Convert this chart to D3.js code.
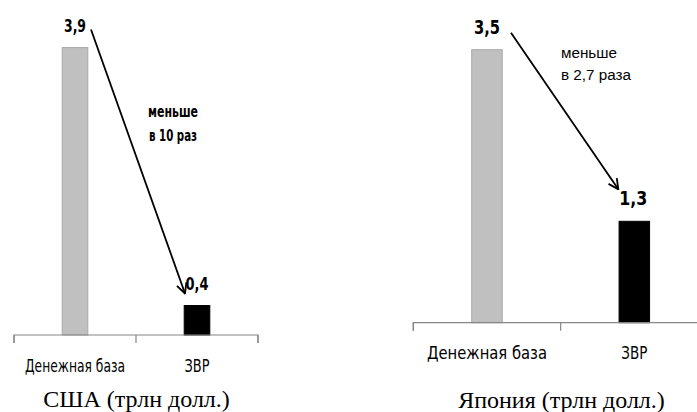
<!DOCTYPE html>
<html>
<head>
<meta charset="utf-8">
<script src="https://cdn.jsdelivr.net/npm/d3@7/dist/d3.min.js"></script>
<style>
  html, body { margin: 0; padding: 0; background: #fff; }
  svg { display: block; }
  .cond { font-family: "Liberation Sans Narrow", "DejaVu Sans Condensed", "DejaVu Sans", sans-serif; }
  .arial { font-family: "Liberation Sans", Arial, sans-serif; }
  .serif { font-family: "Liberation Serif", "Times New Roman", serif; }
</style>
</head>
<body>
<svg id="chart" width="697" height="412"></svg>
<script>
// Categories shared by both panels
const categories = ["Денежная база", "ЗВР"];

// Values, trillion dollars
const usaValues = [3.9, 0.4];
const japanValues = [3.5, 1.3];

// Panel titles
const usaTitle = "США (трлн долл.)";
const japanTitle = "Япония (трлн долл.)";

// Ratio notes beside the arrows
const usaNote = ["меньше", "в 10 раз"];
const japanNote = ["меньше", "в 2,7 раза"];

const barColors = ["#c0c0c0", "#000000"];
const barStrokes = ["#a8a8a8", "#000000"];

const fmt = v => d3.format(".1f")(v).replace(".", ",");

const svg = d3.select("#chart");

svg.append("defs").append("marker")
  .attr("id", "arrowhead")
  .attr("markerUnits", "userSpaceOnUse")
  .attr("viewBox", "0 0 12 12")
  .attr("refX", 11).attr("refY", 6)
  .attr("markerWidth", 12).attr("markerHeight", 12)
  .attr("orient", "auto")
  .append("path")
  .attr("d", "M1,1 L11,6 L1,11")
  .attr("fill", "none")
  .attr("stroke", "#000")
  .attr("stroke-width", 1.8);

// Fit a text node to a given width (keeps narrow Calibri-like proportions)
function fitWidth(sel, w) {
  if (w) sel.attr("textLength", w).attr("lengthAdjust", "spacingAndGlyphs");
}

function panel(cfg) {
  const g = svg.append("g");
  const x = d3.scaleBand().domain(categories).range(cfg.xRange).padding(0);
  const y = d3.scaleLinear().domain([0, 4]).range([cfg.base, cfg.base - 4 * cfg.unit]);

  // Bars
  g.selectAll("rect.bar").data(cfg.values).join("rect")
    .attr("class", "bar")
    .attr("x", (d, i) => x(categories[i]) + x.bandwidth() / 2 - cfg.barW / 2)
    .attr("width", cfg.barW)
    .attr("y", d => y(d))
    .attr("height", d => y(0) - y(d))
    .attr("fill", (d, i) => barColors[i])
    .attr("stroke", (d, i) => barStrokes[i])
    .attr("stroke-width", 1);

  // Category axis
  const axis = d3.axisBottom(x).tickSize(8).tickSizeOuter(8).tickFormat("").tickValues([]);
  const ax = g.append("g").attr("transform", `translate(0,${cfg.base})`).call(axis);
  ax.select(".domain").attr("stroke", "#868686").attr("stroke-width", 1.2)
    .attr("d", `M${cfg.xRange[0]},8V0H${cfg.xRange[1]}V8`);
  const bounds = [cfg.xRange[0], x(categories[1]), cfg.xRange[1]];
  ax.selectAll("line.sep").data(bounds).join("line")
    .attr("class", "sep")
    .attr("x1", d => d).attr("x2", d => d)
    .attr("y1", 0).attr("y2", 8)
    .attr("stroke", "#868686").attr("stroke-width", 1.2);

  // Category labels
  g.selectAll("text.cat").data(categories).join("text")
    .attr("class", "cat cond")
    .attr("x", d => x(d) + x.bandwidth() / 2)
    .attr("y", cfg.base + cfg.catDy)
    .attr("text-anchor", "middle")
    .attr("font-size", cfg.catSize)
    .attr("fill", "#000")
    .text(d => d)
    .each(function (d, i) { fitWidth(d3.select(this), cfg.catW[i]); });

  // Value labels
  g.selectAll("text.val").data(cfg.values).join("text")
    .attr("class", "val cond")
    .attr("x", (d, i) => x(categories[i]) + x.bandwidth() / 2 + cfg.valDx[i])
    .attr("y", d => y(d) - 16)
    .attr("text-anchor", "middle")
    .attr("font-size", cfg.valSize)
    .attr("font-weight", "bold")
    .attr("fill", "#000")
    .text(d => fmt(d))
    .each(function (d, i) { fitWidth(d3.select(this), cfg.valW[i]); });

  // Arrow from the first value label down to the second
  const cx0 = x(categories[0]) + x.bandwidth() / 2;
  const cx1 = x(categories[1]) + x.bandwidth() / 2;
  g.append("line")
    .attr("x1", cx0 + cfg.arrowStart[0]).attr("y1", y(cfg.values[0]) + cfg.arrowStart[1])
    .attr("x2", cx1 + cfg.arrowEnd[0]).attr("y2", y(cfg.values[1]) + cfg.arrowEnd[1])
    .attr("stroke", "#000")
    .attr("stroke-width", 1.8)
    .attr("marker-end", "url(#arrowhead)");

  // Ratio note
  cfg.note.forEach((line, i) => {
    const t = g.append("text")
      .attr("class", cfg.noteClass)
      .attr("x", cfg.noteX)
      .attr("y", cfg.noteY + i * cfg.noteLead)
      .attr("font-size", cfg.noteSize)
      .attr("font-weight", cfg.noteWeight)
      .attr("text-anchor", cfg.noteAnchor)
      .attr("fill", "#000")
      .text(line);
    fitWidth(t, cfg.noteW[i]);
  });

  // Panel title
  g.append("text")
    .attr("class", "serif")
    .attr("x", cfg.titleX)
    .attr("y", cfg.titleY)
    .attr("text-anchor", "middle")
    .attr("font-size", 24)
    .attr("fill", "#000")
    .text(cfg.title);
}

panel({
  values: usaValues, title: usaTitle, note: usaNote,
  xRange: [14, 258], base: 335, unit: 73.7, barW: 25.6,
  catDy: 37, catSize: 17, catW: [100, 25],
  valSize: 17, valW: [22, 23], valDx: [0, 0],
  arrowStart: [16, -18], arrowEnd: [-12, -12],
  noteClass: "cond", noteX: 173, noteY: 117, noteSize: 15, noteWeight: "bold", noteAnchor: "middle", noteLead: 24, noteW: [50, 48],
  titleX: 136.5, titleY: 407
});

panel({
  values: japanValues, title: japanTitle, note: japanNote,
  xRange: [413.3, 708], base: 322.7, unit: 78, barW: 30.5,
  catDy: 36, catSize: 18, catW: [120, 26],
  valSize: 19, valW: [26, 28], valDx: [0, -1],
  arrowStart: [24, -17], arrowEnd: [-16, -32],
  noteClass: "arial", noteX: 561, noteY: 58, noteSize: 15.5, noteWeight: "normal", noteAnchor: "start", noteLead: 22, noteW: [56, 70],
  titleX: 561.5, titleY: 408
});
</script>
</body>
</html>
